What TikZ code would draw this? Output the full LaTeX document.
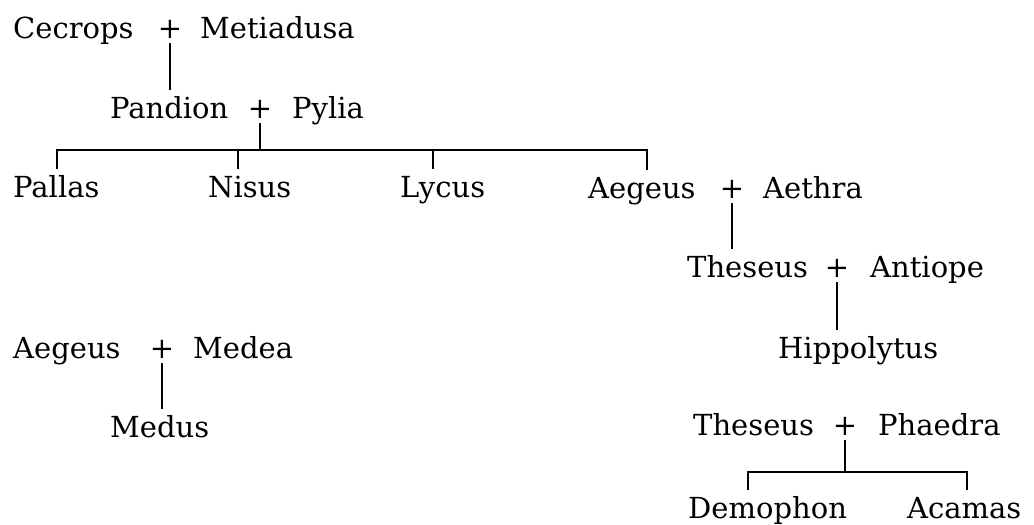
\documentclass[tikz,border=0pt]{standalone}
\usepackage{fontspec}
\setmainfont{DejaVu Serif}
\begin{document}
\begin{tikzpicture}[x=1pt,y=-1pt,
  nm/.style={anchor=base west,inner xsep=0pt,inner ysep=6pt,text height=22pt,text depth=7pt,font=\fontsize{29}{34}\selectfont},
  pl/.style={anchor=base,inner xsep=0pt,inner ysep=5pt,text depth=0pt,font=\fontsize{29}{34}\selectfont},
  ln/.style={line width=1.8pt}]
\useasboundingbox (0,0) rectangle (1034,525);
% row 1
\node[nm] (cecrops) at (13,38) {Cecrops};
\node[pl] (p1) at (170,38) {+};
\node[nm] (metiadusa) at (200,38) {Metiadusa};
% row 2
\node[nm] (pandion) at (110,118) {Pandion};
\node[pl] (p2) at (260,118) {+};
\node[nm] (pylia) at (292,118) {Pylia};
% row 3
\node[nm] (pallas) at (13,197) {Pallas};
\node[nm] (nisus) at (208,197) {Nisus};
\node[nm] (lycus) at (400,197) {Lycus};
\node[nm] (aegeus1) at (588,198) {Aegeus};
\node[pl] (p3) at (732,198) {+};
\node[nm] (aethra) at (763,198) {Aethra};
% row 4
\node[nm] (theseus1) at (687,277) {Theseus};
\node[pl] (p4) at (837,277) {+};
\node[nm] (antiope) at (870,277) {Antiope};
% row 5
\node[nm] (hippolytus) at (778,358) {Hippolytus};
\node[nm] (aegeus2) at (13,358) {Aegeus};
\node[pl] (p5) at (162,358) {+};
\node[nm] (medea) at (193,358) {Medea};
% row 6
\node[nm] (medus) at (110,437) {Medus};
\node[nm] (theseus2) at (693,435) {Theseus};
\node[pl] (p6) at (845,435) {+};
\node[nm] (phaedra) at (878,435) {Phaedra};
% row 7
\node[nm] (demophon) at (688,518) {Demophon};
\node[nm] (acamas) at (907,518) {Acamas};
% connectors
\coordinate (bar1) at (260,150);
\coordinate (bar2) at (845,472);
\draw[ln] (p1.south) -- (p1.south |- pandion.north);
\draw[ln] (p2.south) -- (bar1);
\draw[ln] (pallas.north -| 57,0) |- (bar1);
\draw[ln] (aegeus1.north -| 647,0) |- (bar1);
\draw[ln] (nisus.north -| 238,0) -- (bar1 -| 238,0);
\draw[ln] (lycus.north -| 433,0) -- (bar1 -| 433,0);
\draw[ln] (p3.south) -- (p3.south |- theseus1.north);
\draw[ln] (p4.south) -- (p4.south |- hippolytus.north);
\draw[ln] (p5.south) -- (p5.south |- medus.north);
\draw[ln] (p6.south) -- (bar2);
\draw[ln] (demophon.north -| 748,0) |- (bar2);
\draw[ln] (acamas.north -| 967,0) |- (bar2);
\end{tikzpicture}
\end{document}
